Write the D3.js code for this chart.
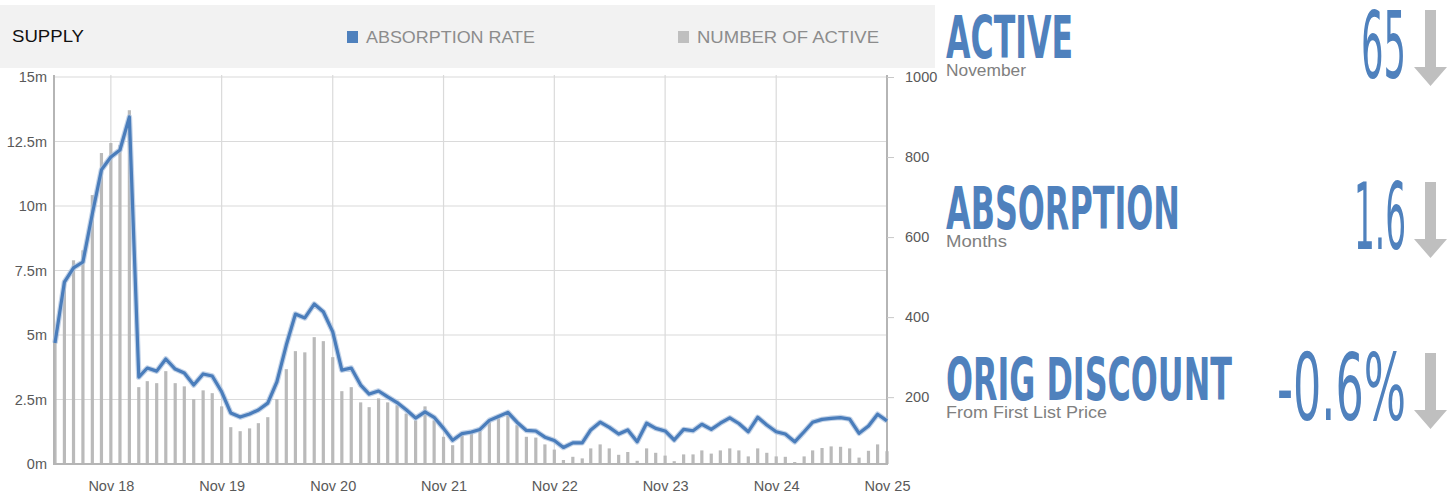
<!DOCTYPE html>
<html>
<head>
<meta charset="utf-8">
<script src="https://cdn.jsdelivr.net/npm/d3@7"></script>
<style>
body { margin: 0; background: #fff; }
text { font-family: "Liberation Sans", Arial, sans-serif; }
</style>
</head>
<body>
<div id="chart"></div>
<script>
// monthly values, May 2018 .. Nov 2025
var firstMonth = '2018-05';
var lastMonth = '2025-11';

var absorption = [
  4.69, 7.05, 7.6, 7.83, 9.7, 11.4, 11.9, 12.17, 13.45, 3.37,
  3.72, 3.6, 4.07, 3.68, 3.53, 3.06, 3.49, 3.41, 2.8, 1.98,
  1.82, 1.94, 2.09, 2.36, 3.18, 4.61, 5.81, 5.66, 6.2, 5.9,
  5.12, 3.64, 3.72, 3.06, 2.71, 2.83, 2.6, 2.38, 2.1, 1.78,
  2.02, 1.81, 1.38, 0.92, 1.18, 1.24, 1.34, 1.69, 1.84, 2.0,
  1.62, 1.3, 1.28, 1.04, 0.91, 0.64, 0.82, 0.82, 1.32, 1.62,
  1.42, 1.16, 1.32, 0.86, 1.58, 1.38, 1.28, 0.93, 1.34, 1.29,
  1.54, 1.34, 1.58, 1.79, 1.57, 1.25, 1.81, 1.51, 1.25, 1.16,
  0.86, 1.25, 1.62, 1.73, 1.77, 1.8, 1.74, 1.19, 1.47, 1.93,
  1.67
];

var active = [
  368, 492, 542, 567, 705, 810, 835, 830, 917, 225,
  240, 235, 265, 235, 227, 195, 217, 210, 177, 125,
  115, 122, 135, 150, 195, 270, 315, 312, 350, 340,
  300, 215, 225, 187, 175, 197, 187, 180, 159, 142,
  177, 142, 101, 80, 105, 110, 117, 138, 147, 163,
  130, 101, 99, 82, 69, 43, 51, 47, 72, 82,
  72, 56, 63, 41, 72, 61, 54, 40, 57, 57,
  67, 59, 67, 72, 67, 52, 72, 61, 52, 51,
  38, 52, 67, 73, 77, 76, 72, 49, 66, 82,
  65
];

var tickLabels = ['Nov 18', 'Nov 19', 'Nov 20', 'Nov 21', 'Nov 22', 'Nov 23', 'Nov 24', 'Nov 25'];
var leftTicks = [0, 2.5, 5, 7.5, 10, 12.5, 15];
var rightTicks = [200, 400, 600, 800, 1000];
var legendLabels = ['ABSORPTION RATE', 'NUMBER OF ACTIVE'];

var statTitles = ['ACTIVE', 'ABSORPTION', 'ORIG DISCOUNT'];
var statSubs = ['November', 'Months', 'From First List Price'];
var statValues = ['65', '1.6', '-0.6%'];

var blue = '#4f81bd';
var grey = '#bfbfbf';

var width = 1456;
var height = 498;
var plotLeft = 54, plotRight = 887, plotTop = 77, plotBottom = 464;

var parseMonth = d3.timeParse('%Y-%m');
var parseTick = d3.timeParse('%b %y');
var start = parseMonth(firstMonth);
var months = d3.timeMonth.range(start, d3.timeMonth.offset(parseMonth(lastMonth), 1));

var svg = d3.select('#chart')
  .append('svg')
  .attr('width', width)
  .attr('height', height);

var x = d3.scaleTime()
  .domain([start, months[months.length - 1]])
  .range([55, plotRight]);

var yLeft = d3.scaleLinear()
  .domain([0, 15])
  .range([plotBottom, plotTop]);

var yRight = d3.scaleLinear()
  .domain([33, 1000])
  .range([plotBottom, plotTop]);

// header band
var header = svg.append('g');
header.append('rect')
  .attr('x', 0).attr('y', 5)
  .attr('width', 935).attr('height', 63)
  .attr('fill', '#f2f2f2');
header.append('text')
  .attr('x', 12).attr('y', 42)
  .attr('font-size', 17)
  .attr('textLength', 72)
  .attr('lengthAdjust', 'spacingAndGlyphs')
  .attr('fill', '#111')
  .text('SUPPLY');

var legendX = [347, 678];
var legendW = [169, 182];
var legendC = [blue, grey];
legendLabels.forEach(function(label, i) {
  header.append('rect')
    .attr('x', legendX[i]).attr('y', 31)
    .attr('width', 11).attr('height', 12)
    .attr('fill', legendC[i]);
  header.append('text')
    .attr('x', legendX[i] + 19).attr('y', 43)
    .attr('font-size', 17)
    .attr('textLength', legendW[i])
    .attr('lengthAdjust', 'spacingAndGlyphs')
    .attr('fill', '#8c8c8c')
    .text(label);
});

// grid
var tickDates = tickLabels.map(function(t) { return parseTick(t); });

svg.append('g')
  .selectAll('line')
  .data(leftTicks)
  .enter().append('line')
  .attr('x1', plotLeft).attr('x2', plotRight)
  .attr('y1', function(d) { return yLeft(d); })
  .attr('y2', function(d) { return yLeft(d); })
  .attr('stroke', '#dadada')
  .attr('stroke-width', 1.2);

svg.append('g')
  .selectAll('line')
  .data(tickDates)
  .enter().append('line')
  .attr('x1', function(d) { return x(d); })
  .attr('x2', function(d) { return x(d); })
  .attr('y1', plotTop - 2).attr('y2', plotBottom)
  .attr('stroke', '#dadada')
  .attr('stroke-width', 1.2);

// bars
svg.append('g')
  .selectAll('rect')
  .data(active)
  .enter().append('rect')
  .attr('x', function(d, i) { return x(months[i]) - 1.6; })
  .attr('y', function(d) { return yRight(d); })
  .attr('width', 3.2)
  .attr('height', function(d) { return plotBottom - yRight(d); })
  .attr('fill', '#bababa');

// frame
svg.append('line')
  .attr('x1', plotLeft).attr('x2', plotLeft)
  .attr('y1', plotTop - 2).attr('y2', plotBottom + 1)
  .attr('stroke', '#b5b5b5').attr('stroke-width', 2);
svg.append('line')
  .attr('x1', plotRight).attr('x2', plotRight)
  .attr('y1', plotTop - 2).attr('y2', plotBottom + 1)
  .attr('stroke', '#b5b5b5').attr('stroke-width', 2);
svg.append('line')
  .attr('x1', plotLeft).attr('x2', plotRight)
  .attr('y1', plotBottom).attr('y2', plotBottom)
  .attr('stroke', '#b5b5b5').attr('stroke-width', 2);

// line
var line = d3.line()
  .x(function(d, i) { return x(months[i]); })
  .y(function(d) { return yLeft(d); });

svg.append('path')
  .datum(absorption)
  .attr('d', line)
  .attr('fill', 'none')
  .attr('stroke', '#a9c0de')
  .attr('stroke-width', 5.5)
  .attr('stroke-linejoin', 'round')
  .attr('opacity', 0.7);

svg.append('path')
  .datum(absorption)
  .attr('d', line)
  .attr('fill', 'none')
  .attr('stroke', '#4a7dbb')
  .attr('stroke-width', 3.2)
  .attr('stroke-linejoin', 'round');

// axes
function styleAxis(g) {
  g.select('.domain').remove();
  g.selectAll('text')
    .attr('font-size', 14.5)
    .attr('fill', '#595959')
    .style('font-family', '"Liberation Sans", Arial, sans-serif');
}

svg.append('g')
  .attr('transform', 'translate(' + plotLeft + ',0)')
  .call(d3.axisLeft(yLeft).tickValues(leftTicks).tickSize(0).tickPadding(7)
    .tickFormat(function(d) { return d + 'm'; }))
  .call(styleAxis);

svg.append('g')
  .attr('transform', 'translate(' + plotRight + ',0)')
  .call(d3.axisRight(yRight).tickValues(rightTicks).tickSize(7).tickPadding(11)
    .tickFormat(d3.format('d')))
  .call(styleAxis)
  .call(function(g) { g.selectAll('line').attr('stroke', '#c8c8c8'); });

svg.append('g')
  .attr('transform', 'translate(0,' + plotBottom + ')')
  .call(d3.axisBottom(x).tickValues(tickDates).tickSize(0).tickPadding(17)
    .tickFormat(function(d, i) { return tickLabels[i]; }))
  .call(styleAxis);

// stats panel
var titleY = [58, 229, 400];
var titleW = [127, 234, 286];
var subW = [80, 61, 161];
var valueW = [45, 52, 129];
var arrowTop = [10, 182, 353];
var condensed = '"Liberation Sans Narrow", "DejaVu Sans Condensed", sans-serif';

// squeeze a text horizontally to a given width, keeping its anchor
function squeeze(sel, x0, y0, w) {
  var natural = sel.node().getComputedTextLength();
  sel.attr('transform', 'translate(' + x0 + ',' + y0 + ') scale(' + (w / natural) + ',1)');
}

statTitles.forEach(function(t, i) {
  var g = svg.append('g');
  g.append('text')
    .attr('font-size', 58)
    .attr('font-weight', 'bold')
    .style('font-family', condensed)
    .attr('fill', blue)
    .text(t)
    .call(squeeze, 946, titleY[i], titleW[i]);
  g.append('text')
    .attr('font-size', 17)
    .attr('fill', '#808080')
    .text(statSubs[i])
    .call(squeeze, 946, titleY[i] + 18, subW[i]);
  g.append('text')
    .attr('font-size', 92)
    .attr('text-anchor', 'end')
    .style('font-family', condensed)
    .attr('fill', blue)
    .text(statValues[i])
    .call(squeeze, 1406, titleY[i] + 20, valueW[i]);
  var a = arrowTop[i];
  g.append('path')
    .attr('d', 'M1425,' + a + 'H1436V' + (a + 57) + 'H1447L1430.5,' + (a + 76) +
      'L1414,' + (a + 57) + 'H1425Z')
    .attr('fill', grey);
});
</script>
</body>
</html>
